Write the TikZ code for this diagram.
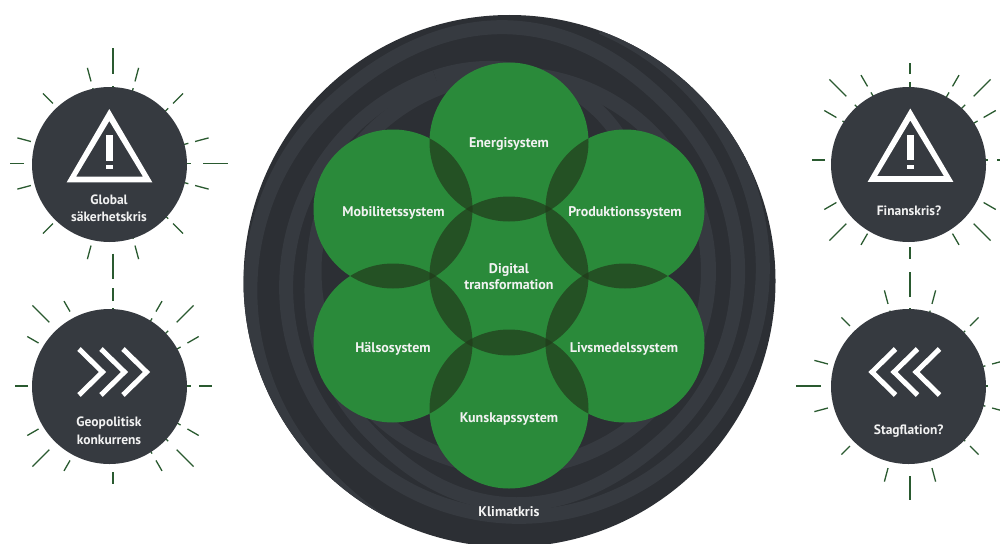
\documentclass[tikz,border=0pt]{standalone}
\usepackage{fontspec}
\setmainfont{PT Sans}
\usetikzlibrary{calc}
\definecolor{disk}{HTML}{2C2F34}
\definecolor{bandc}{HTML}{363A40}
\definecolor{grn}{HTML}{2A8A3A}
\definecolor{ovl}{HTML}{223F1D}
\definecolor{rayc}{HTML}{2A5A30}
\definecolor{txt}{HTML}{F2F2F2}
\tikzset{
  band/.style={draw=bandc,line width=#1,line cap=butt},
  sys/.style={circle,fill=grn,minimum size=159pt,inner sep=0pt},
  crisis/.style={circle,fill=bandc,minimum size=155pt,inner sep=0pt},
  lab/.style={text=txt,font=\bfseries\fontsize{14}{16}\selectfont,align=center,inner sep=0pt},
  sidelab/.style={text=txt,font=\bfseries\fontsize{13.5}{17.5}\selectfont,align=center,inner sep=0pt},
  rayline/.style={draw=rayc,line width=1.3pt},
  chev/.style={draw=white,line width=5pt,miter limit=10},
}
\newcommand{\raysat}[3]{%
  \foreach \a/\i/\o in {#3}{%
    \draw[rayline] ($(#1,#2)+(\a:\i)$) -- ($(#1,#2)+(\a:\o)$);
    \draw[rayline] ($(#1,#2)+(\a:68)$) -- ($(#1,#2)+(\a:78)$);
  }}
\begin{document}
\begin{tikzpicture}[x=1pt,y=-1pt]
\useasboundingbox (0,0) rectangle (1000,543);
\clip (0,0) rectangle (1000,543);
% big disk with spiral bands
\node[circle,fill=disk,minimum size=532pt,inner sep=0pt] (disk) at (509.5,281) {};
\begin{scope}[shift={(509.5,281)}]
  \clip (0,0) circle (266);
  % long spiral: off the disk lower left, over the top, down the right, under the bottom, to the left again
  \draw[band=14pt] plot[domain=100:570,samples=190,smooth] (\x:{259-0.17*(\x-180)+10*max(0,cos(2*(\x-450)))*max(0,cos(2*(\x-450)))});
  % second spiral: from the upper right rim round the bottom to the top
  \draw[band=14pt] plot[domain=-70:250,samples=130,smooth] (\x:{253-0.22*\x+0.0003*\x*\x});
  \draw[band=14pt] plot[domain=250:310,samples=30,smooth] (\x:{253-0.22*\x+0.0003*\x*\x-0.01*(\x-250)*(\x-250)});
  % innermost ring
  \draw[band=15pt] plot[domain=0:360,samples=150,smooth] (\x:{197+10*cos(\x-280)});
\end{scope}
% rays
\raysat{113}{163.5}{0/90/115,90/90/115,180/89/103,270/90/115,15/85/99,45/85/99,75/85/99,105/85/99,135/85/99,165/85/99,195/85/99,225/85/99,255/85/99,285/85/99,315/85/99,345/85/99}
\raysat{113}{386}{0/86/99,90/86/98,180/85/98,270/85/98,30/86/99,45/90/114,60/86/98,120/86/98,135/90/114,150/86/99,210/86/99,225/90/114,240/86/98,300/86/98,315/90/114,330/86/99}
\raysat{910}{160}{0/87/100,90/87/99,180/85/98,270/86/97,30/85/99,45/90/114,60/85/98,120/85/98,135/90/114,150/85/99,210/85/99,225/90/114,240/85/98,300/85/98,315/90/114,330/85/99}
\raysat{910}{386}{0/90/114,90/90/114,180/89/114,270/89/114,15/85/99,45/85/97,75/85/99,105/85/99,135/85/97,165/85/99,195/85/99,225/85/97,255/85/99,285/85/99,315/85/97,345/85/99}
% crisis circles
\node[crisis] (sak) at (109.5,164.5) {};
\node[crisis] (geo) at (109.5,386.5) {};
\node[crisis] (fin) at (908.5,164.5) {};
\node[crisis] (sta) at (908.5,386.5) {};
% warning triangles
\foreach \dx/\dy in {0/0,801/-0.5}{
  \begin{scope}[shift={(\dx,\dy)}]
    \fill[white,even odd rule] (109.3,109)--(152.3,182.3)--(66.7,182.3)--cycle (109.3,121)--(76,176.7)--(143,176.7)--cycle;
    \fill[white] (106,135) rectangle (112.7,160.7);
    \fill[white] (106,165) rectangle (112.7,169.3);
  \end{scope}}
% chevrons
\foreach \x in {0,22,44}{
  \draw[chev] (79+\x,349)--(102.5+\x,372)--(79+\x,395);
  \draw[chev] (895.5+\x,349)--(872+\x,372)--(895.5+\x,395);
}
% system circles
\node[sys] (ene) at (509,142) {};
\node[sys] (mob) at (393,209) {};
\node[sys] (pro) at (625,209) {};
\node[sys] (hal) at (393,343) {};
\node[sys] (liv) at (625,343) {};
\node[sys] (kun) at (509,409) {};
\node[sys] (dig) at (509,276) {};
% overlaps
\foreach \p/\q in {ene/mob,ene/pro,mob/hal,pro/liv,hal/kun,liv/kun,dig/ene,dig/mob,dig/pro,dig/hal,dig/liv,dig/kun}{
  \begin{scope}
    \clip (\p.center) circle (79.5);
    \fill[ovl,fill opacity=.75] (\q.center) circle (79.5);
  \end{scope}}
% labels
\node[lab] (tene) at (509,144.5) {Energisystem};
\node[lab] (tmob) at (393.5,213) {Mobilitetssystem};
\node[lab] (tpro) at (625,213) {Produktionssystem};
\node[lab] (tdig) at (509,277) {Digital\\transformation};
\node[lab] (thal) at (393,349) {Hälsosystem};
\node[lab] (tliv) at (624,349) {Livsmedelssystem};
\node[lab] (tkun) at (509,419) {Kunskapssystem};
\node[lab] (tkli) at (509,512) {Klimatkris};
\node[sidelab] (tsak) at (109,208.5) {Global\\säkerhetskris};
\node[sidelab] (tgeo) at (109,431) {Geopolitisk\\konkurrens};
\node[sidelab] (tfin) at (909,210.5) {Finanskris?};
\node[sidelab] (tsta) at (908.7,431) {Stagflation?};
\end{tikzpicture}
\end{document}
